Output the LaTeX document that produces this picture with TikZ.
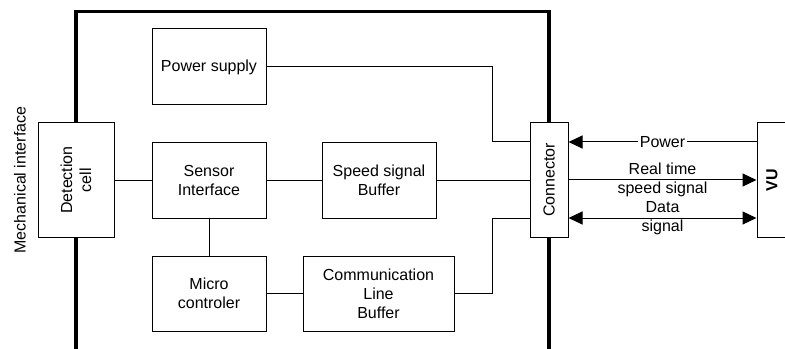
\documentclass[tikz,border=0pt]{standalone}
\usepackage{fontspec}
\setmainfont{Liberation Sans}
\usetikzlibrary{arrows.meta}
\begin{document}
\begin{tikzpicture}[x=0.75pt,y=-0.75pt,
  font=\fontsize{12}{14.25}\selectfont,
  box/.style={draw=black,fill=white,line width=0.75pt,inner sep=0pt,align=center},
  wire/.style={draw=black,line width=0.75pt},
  frameline/.style={draw=black,line width=2.6pt,line join=miter},
  tip/.style={{Triangle[length=10.5pt,width=9.75pt]}},
  lbl/.style={align=center,inner sep=1pt}]
\useasboundingbox (0,0) rectangle (785,349);

% device housing, open at the bottom
\draw[frameline] (76,360) -- (76,11.5) -- (549,11.5) -- (549,360);

% internal blocks
\node[box,minimum width=85.5pt,minimum height=57pt] (power) at (209,67) {Power supply};
\node[box,minimum width=85.5pt,minimum height=56.25pt] (sensor) at (209,180.5) {Sensor\\Interface};
\node[box,minimum width=85.5pt,minimum height=56.25pt] (micro) at (209,293.5) {Micro\\controler};
\node[box,minimum width=85.5pt,minimum height=56.25pt] (speed) at (379,180.5) {Speed signal\\Buffer};
\node[box,minimum width=113.25pt,minimum height=56.25pt] (comm) at (378.5,293.5) {Communication\\Line\\Buffer};

% blocks sitting on the housing wall
\node[box,minimum width=57pt,minimum height=85.5pt] (det) at (76,180) {};
\node[rotate=90,align=center] at (det.center) {Detection\\cell};
\node[box,minimum width=28.5pt,minimum height=85.5pt] (conn) at (549,180) {};
\node[rotate=90] at (conn.center) {Connector};

% external unit
\node[box,minimum width=22.5pt,minimum height=85.5pt] (vu) at (772,180) {};
\node[rotate=90,font=\fontsize{12}{14.25}\selectfont\bfseries] at (vu.center) {VU};

\node[rotate=90] (mech) at (20,180) {Mechanical interface};

% internal wiring
\coordinate (pbend) at (492,142);
\coordinate (cbend) at (492,218);
\draw[wire] (det.east |- sensor) -- (sensor.west);
\draw[wire] (sensor.east) -- (speed.west);
\draw[wire] (speed.east) -- (conn.west |- speed);
\draw[wire] (sensor.south) -- (micro.north);
\draw[wire] (micro.east) -- (comm.west);
\draw[wire] (power.east) -| (pbend) -- (conn.west |- pbend);
\draw[wire] (comm.east) -| (cbend) -- (conn.west |- cbend);

% external signals
\coordinate (ypow) at (0,142);
\coordinate (yspd) at (0,180);
\coordinate (ydat) at (0,218);
\draw[wire,-{Triangle[length=10.5pt,width=9.75pt]}] (vu.west |- ypow) -- node[lbl,fill=white] {Power} (conn.east |- ypow);
\draw[wire,-{Triangle[length=10.5pt,width=9.75pt]}] (conn.east |- yspd) -- node[lbl] {Real time\\speed signal} (vu.west |- yspd);
\draw[wire,{Triangle[length=10.5pt,width=9.75pt]}-{Triangle[length=10.5pt,width=9.75pt]}] (conn.east |- ydat) -- node[lbl] {Data\\signal} (vu.west |- ydat);
\end{tikzpicture}
\end{document}
